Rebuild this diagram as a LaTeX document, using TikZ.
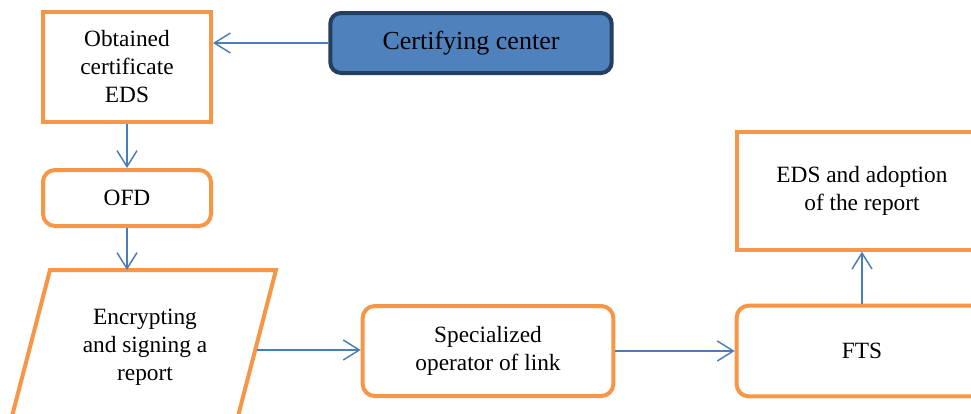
\documentclass[tikz,border=0pt]{standalone}
\usepackage{fontspec}
\setmainfont{Liberation Serif}
\usetikzlibrary{arrows.meta}

\definecolor{boxorange}{HTML}{F79646}
\definecolor{arrowblue}{HTML}{4A7EBB}
\definecolor{ccfill}{HTML}{4F81BD}
\definecolor{ccline}{HTML}{253F60}

\begin{document}
\begin{tikzpicture}[x=0.75pt,y=-0.75pt,
                every node/.style={align=center,inner sep=2pt,
                  font=\rmfamily\fontsize{17.5}{21}\selectfont},
                box/.style={draw=boxorange,line width=3pt,fill=white},
                rbox/.style={box,rounded corners=9pt},
                arr/.style={draw=arrowblue,line width=1.1pt,
                  -{Straight Barb[length=12pt,width=15pt]}}]
                \path[use as bounding box,clip] (0,0) rectangle (971,414);
                \node[box,minimum width=126pt,minimum height=82.5pt] (obt) at (127,67)
                    {Obtained\\certificate\\EDS};
                \node[draw=ccline,fill=ccfill,line width=3pt,rounded corners=8pt,
                    minimum width=211pt,minimum height=45pt,
                    font=\rmfamily\fontsize{19.5}{23}\selectfont] (cc) at (471,43) {Certifying center};
                \node[rbox,minimum width=126pt,minimum height=42pt] (ofd) at (127,198) {OFD};
                % parallelogram, cut off by the lower edge
                \draw[box] (50,270) -- (276,270) -- (236,424) -- (10,424) -- cycle;
                \node (enc) at (145,347) {Encrypting\\and signing a\\report};
                \coordinate (enctop) at (127,270);
                \coordinate (encright) at (257,350);
                \node[rbox,minimum width=188pt,minimum height=67.5pt] (spec) at (488,351)
                    {Specialized\\operator of link};
                \node[rbox,minimum width=188pt,minimum height=68pt] (fts) at (862,351) {FTS};
                \node[box,minimum width=188pt,minimum height=88pt] (eds) at (862,191)
                    {EDS and adoption\\of the report};
                \draw[arr] (cc.west) -- (cc.west -| obt.east);
                \draw[arr] (obt.south) -- (ofd.north);
                \draw[arr] (ofd.south) -- (enctop);
                \draw[arr] (encright) -- (encright -| spec.west);
                \draw[arr] (spec.east) -- (fts.west);
                \draw[arr] (fts.north) -- (eds.south);
            \end{tikzpicture}
\end{document}
